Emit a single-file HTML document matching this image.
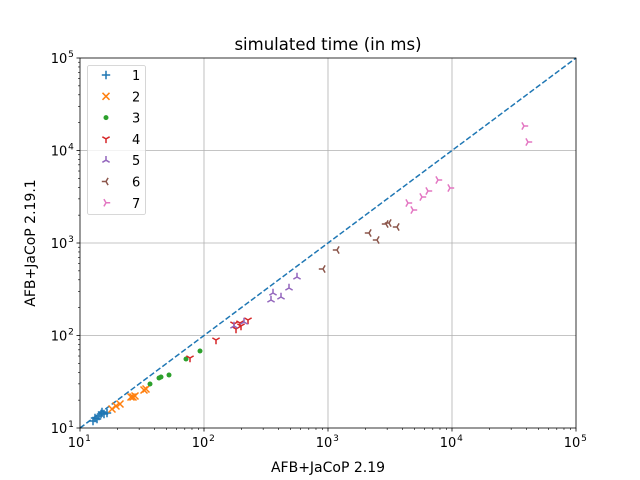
<!DOCTYPE html>
<html><head><meta charset="utf-8"><style>body{margin:0;background:#fff}svg{display:block;font-family:"DejaVu Sans","Liberation Sans",sans-serif}</style></head>
<body>
<svg id="s" width="640" height="480" viewBox="0 0 640 480" xmlns="http://www.w3.org/2000/svg">
<rect width="640" height="480" fill="#fff"/>
<g id="grid" stroke="#b0b0b0" stroke-width="0.8"></g>
<line x1="80" y1="428" x2="576" y2="58" stroke="#1f77b4" stroke-width="1.5" stroke-dasharray="5.5,2.4"/>
<g id="pts"></g>
<rect x="80" y="58" width="496" height="370" fill="none" stroke="#000" stroke-width="0.8"/>
<g id="ticks" stroke="#000" stroke-width="0.8"></g>
<g id="lbl" font-size="13.9" fill="#000"></g>
<text x="328" y="50" text-anchor="middle" font-size="16.5">simulated time (in ms)</text>
<text x="328" y="472" text-anchor="middle" font-size="14">AFB+JaCoP 2.19</text>
<text transform="translate(35,243) rotate(-90)" text-anchor="middle" font-size="14">AFB+JaCoP 2.19.1</text>
<rect x="87.5" y="65.5" width="58" height="149" rx="2" fill="#fff" fill-opacity="0.8" stroke="#ccc" stroke-width="0.8"/>
<g id="leg" font-size="13"></g>
</svg>
<script>
const ns="http://www.w3.org/2000/svg";
function el(p,t,a,txt){const e=document.createElementNS(ns,t);for(const k in a)e.setAttribute(k,a[k]);if(txt!=null)e.textContent=txt;document.getElementById(p).appendChild(e);return e;}
const X=e=>80+(e-1)*124, Y=e=>428-(e-1)*92.5;
for(let d=2;d<=4;d++){el('grid','line',{x1:X(d),y1:58,x2:X(d),y2:428});el('grid','line',{x1:80,y1:Y(d),x2:576,y2:Y(d)});}
for(let d=1;d<=5;d++){
 el('ticks','line',{x1:X(d),y1:428,x2:X(d),y2:431.5});el('ticks','line',{x1:76.5,y1:Y(d),x2:80,y2:Y(d)});
 el('lbl','text',{x:X(d)-4,y:447,'text-anchor':'middle','font-size':13},'10');el('lbl','text',{x:X(d)+8,y:441,'font-size':'9','text-anchor':'middle'},d);
 el('lbl','text',{x:59,y:Y(d)+5,'text-anchor':'middle','font-size':13},'10');el('lbl','text',{x:71,y:Y(d)-1,'font-size':'9','text-anchor':'middle'},d);
 if(d<5)for(let m=2;m<=9;m++){const f=Math.log10(m);el('ticks','line',{x1:X(d+f),y1:428,x2:X(d+f),y2:430,'stroke-width':0.6});el('ticks','line',{x1:78,y1:Y(d+f),x2:80,y2:Y(d+f),'stroke-width':0.6});}
}
const C=['#1f77b4','#ff7f0e','#2ca02c','#d62728','#9467bd','#8c564b','#e377c2'];
function mk(p,k,x,y){const c=C[k],s=4.2;let d='';
 if(k==0)d=`M${x-s} ${y}H${x+s}M${x} ${y-s}V${y+s}`;
 else if(k==1)d=`M${x-3.5} ${y-3.5}L${x+3.5} ${y+3.5}M${x-3.5} ${y+3.5}L${x+3.5} ${y-3.5}`;
 else if(k==2){el(p,'circle',{cx:x,cy:y,r:2.5,fill:c});return;}
 else{const a={3:90,4:-90,5:180,6:0}[k];for(let i=0;i<3;i++){const t=(a+i*120)*Math.PI/180;d+=`M${x} ${y}L${x+s*Math.cos(t)} ${y+s*Math.sin(t)}`;}}
 el(p,'path',{d:d,stroke:c,'stroke-width':1.5,fill:'none'});}
const P=[
[[93,421],[95,418],[99,416],[101,414],[104,414],[107,413],[102,412],[97,419]],
[[112,409],[116,406],[120,404],[131,397],[133,397],[135,396],[144,390],[146,389]],
[[150,384],[159,378],[161,377],[169,375],[186,359],[200,351]],
[[190,358],[216,340],[234,324],[241,326],[240,323],[248,320],[236,329]],
[[234,326],[244,322],[271,300],[273,293],[281,297],[289,288],[297,277]],
[[323,269],[337,250],[369,233],[377,240],[386,224],[389,223],[397,227]],
[[408,203],[413,210],[422,197],[428,191],[438,180],[450,188],[524,126],[528,142]]];
P.forEach((a,k)=>a.forEach(p=>mk('pts',k,p[0],p[1])));
for(let k=0;k<7;k++){const y=75+k*21.3;mk('leg',k,106,y);el('leg','text',{x:132,y:y+5},k+1);}
</script>
</body></html>
